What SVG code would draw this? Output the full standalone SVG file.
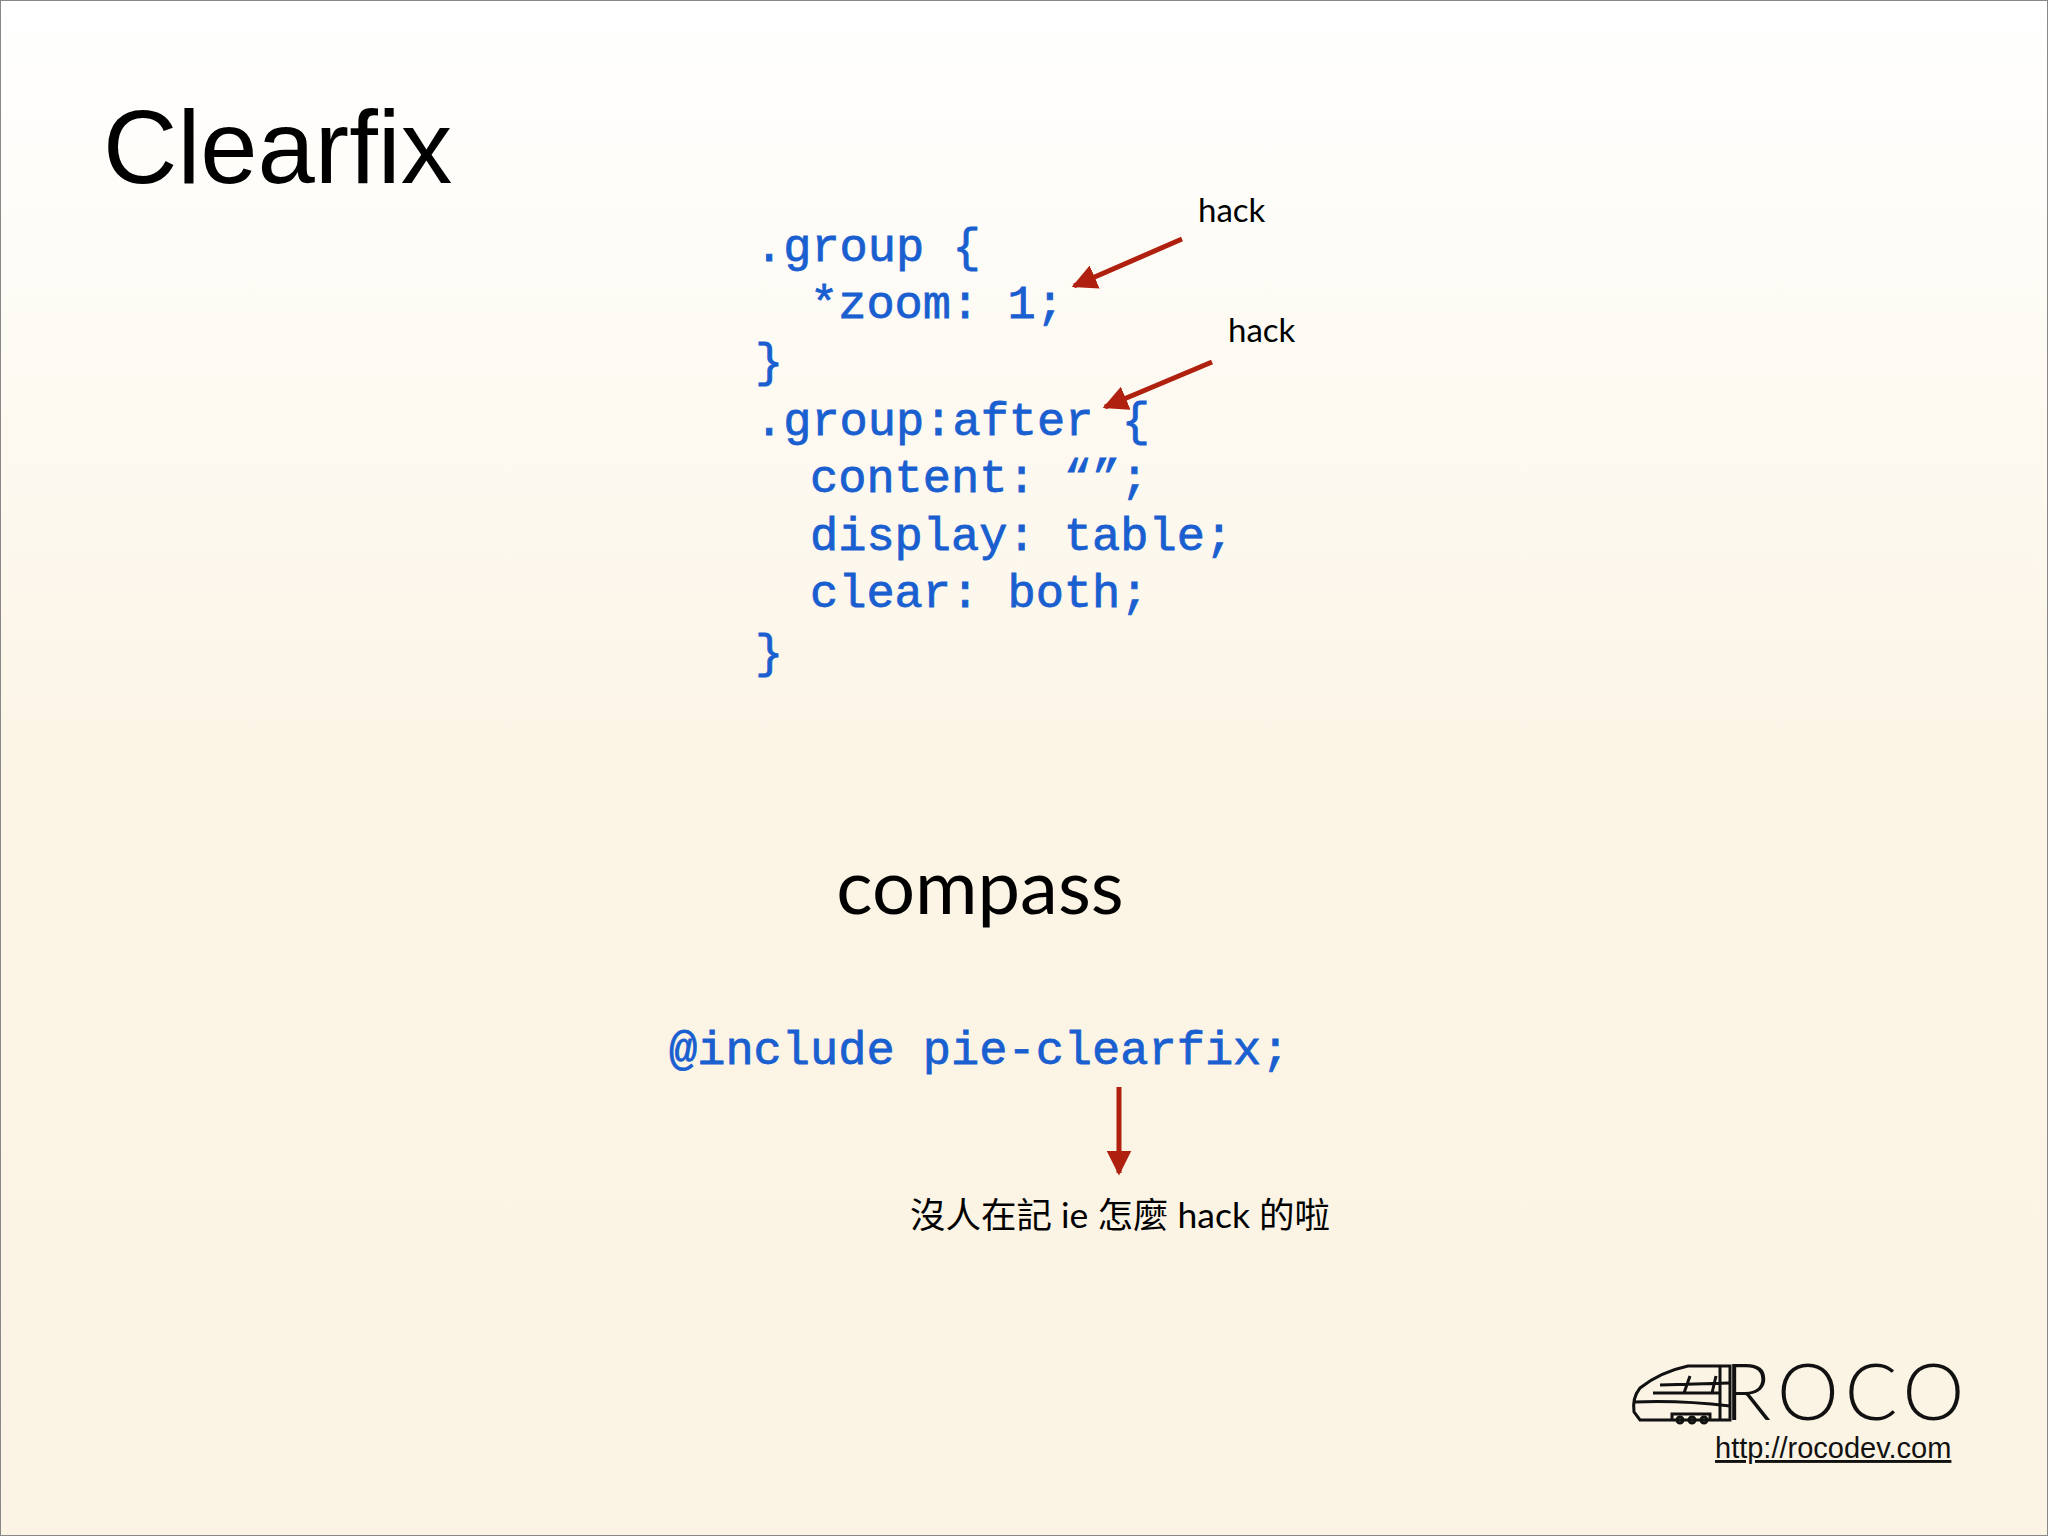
<svg xmlns="http://www.w3.org/2000/svg" width="2048" height="1536" viewBox="0 0 2048 1536">
<defs>
<linearGradient id="bg" x1="0" y1="0" x2="0" y2="1"><stop offset="0" stop-color="#ffffff"/><stop offset="0.5" stop-color="#fcf5e6"/><stop offset="1" stop-color="#fbf3e4"/></linearGradient>
<marker id="ah" viewBox="0 0 10 10" refX="9" refY="5" markerWidth="5" markerHeight="5" orient="auto"><path d="M0,0 L10,5 L0,10 z" fill="#b0200f"/></marker>
<style>
.code{font-family:"Liberation Mono",monospace;font-size:47px;fill:#1a5fd0;stroke:#1a5fd0;stroke-width:0.8}
.note{font-family:Lato,"Noto Sans CJK TC",sans-serif;font-size:33px;fill:#000}
.arr{stroke:#b0200f;stroke-width:5;fill:none;marker-end:url(#ah)}
</style>
</defs>
<rect x="0" y="0" width="2048" height="1536" fill="url(#bg)" stroke="#888" stroke-width="2"/>
<g id="title"><text x="103" y="183" font-family="Liberation Sans,sans-serif" font-size="103" fill="#000">Clearfix</text></g>
<g id="code">
<text class="code" x="755" y="261">.group {</text>
<text class="code" x="810" y="318">*zoom: 1;</text>
<text class="code" x="755" y="376">}</text>
<text class="code" x="755" y="435">.group:after {</text>
<text class="code" x="810" y="492">content: “”;</text>
<text class="code" x="810" y="550">display: table;</text>
<text class="code" x="810" y="607">clear: both;</text>
<text class="code" x="755" y="667">}</text>
</g>
<g id="hack1"><text class="note" x="1198" y="222">hack</text></g>
<g id="hack2"><text class="note" x="1228" y="342">hack</text></g>
<g id="compass"><text x="980" y="914" text-anchor="middle" font-family="Lato,sans-serif" font-size="76" fill="#000">compass</text></g>
<g id="include"><text class="code" x="669" y="1064">@include pie-clearfix;</text></g>
<g id="note"><text class="note" x="910" y="1228" style="font-size:35.5px">沒人在記 ie 怎麼 hack 的啦</text></g>
<g id="connectors">
<line class="arr" x1="1182" y1="239" x2="1074" y2="286"/>
<line class="arr" x1="1212" y1="362" x2="1105" y2="407"/>
<line class="arr" x1="1119" y1="1087" x2="1119" y2="1173"/>
</g>
<g id="logo" fill="none" stroke="#111" stroke-width="3">
<path d="M1730,1366 L1688,1366 Q1660,1372 1640,1388 Q1632,1398 1634,1412 L1640,1420 L1730,1420 Z"/>
<path d="M1634,1402 Q1680,1400 1730,1406"/>
<path d="M1653,1393 L1720,1393 M1660,1385 L1730,1383 M1690,1376 L1684,1393 M1716,1376 L1712,1393 M1720,1366 L1720,1420"/>
<path d="M1672,1420 L1672,1414 L1710,1414 L1710,1420"/>
<circle cx="1680" cy="1420" r="3"/><circle cx="1692" cy="1420" r="3"/><circle cx="1704" cy="1420" r="3"/>
<text x="1724" y="1420" font-family="Lato,sans-serif" font-weight="300" font-size="78" fill="#111" stroke="none" letter-spacing="6">ROCO</text>
<text x="1715" y="1458" font-family="Liberation Sans,sans-serif" font-size="29" fill="#111" stroke="none" text-decoration="underline">http://rocodev.com</text>
</g>
</svg>
